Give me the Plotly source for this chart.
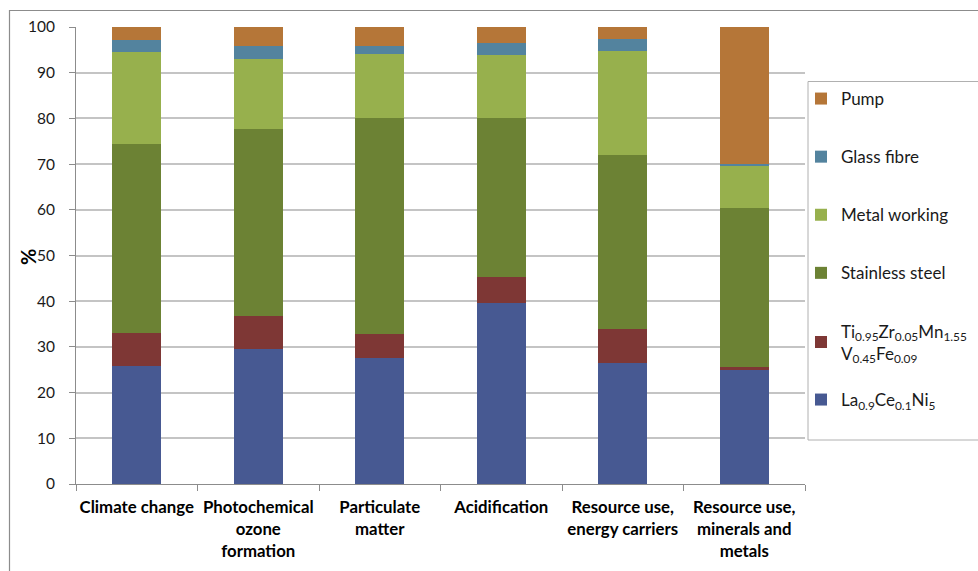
import plotly.graph_objects as go

# Impact categories (x axis)
categories = [
    "Climate change",
    "Photochemical<br>ozone<br>formation",
    "Particulate<br>matter",
    "Acidification",
    "Resource use,<br>energy carriers",
    "Resource use,<br>minerals and<br>metals",
]

# Contribution shares in % per component, bottom of stack first
la_ce_ni = [25.8, 29.6, 27.5, 39.7, 26.4, 25.1]
ti_zr_mn_v_fe = [7.2, 7.2, 5.4, 5.5, 7.5, 0.4]
stainless_steel = [41.3, 40.9, 47.1, 34.9, 38.1, 34.8]
metal_working = [20.3, 15.2, 14.1, 13.8, 22.7, 9.4]
glass_fibre = [2.5, 2.9, 1.8, 2.5, 2.6, 0.4]
pump = [2.9, 4.2, 4.1, 3.6, 2.7, 29.9]

series = [
    ("La<sub>0.9</sub>Ce<sub>0.1</sub>Ni<sub>5</sub>", la_ce_ni, "#475992"),
    ("Ti<sub>0.95</sub>Zr<sub>0.05</sub>Mn<sub>1.55</sub><br>V<sub>0.45</sub>Fe<sub>0.09</sub>",
     ti_zr_mn_v_fe, "#7e3735"),
    ("Stainless steel", stainless_steel, "#6c8234"),
    ("Metal working", metal_working, "#97b04d"),
    ("Glass fibre", glass_fibre, "#53839e"),
    ("Pump", pump, "#b57638"),
]

font_family = "Lato, 'Open Sans', sans-serif"

fig = go.Figure()
n = len(series)
for i, (name, vals, color) in enumerate(series):
    fig.add_trace(go.Bar(
        x=categories, y=vals, name=name,
        marker=dict(color=color, line=dict(width=0)),
        legendgroup=f"g{i}",
        legendrank=n - i,  # top of the stack listed first
        legend="legend2" if i == 0 else "legend",
    ))

W, H = 978, 571
ml, mr, mt, mb = 76, 173, 27, 87
pw, ph = W - ml - mr, H - mt - mb


def px_x(x):
    return (x - ml) / pw


def px_y(y):
    return (H - mb - y) / ph


legend_style = dict(
    xref="container", yref="container",
    xanchor="left", yanchor="top",
    traceorder="grouped",
    tracegroupgap=33,
    maxheight=560,
    font=dict(size=17, family=font_family, color="#1a1a1a"),
    bgcolor="rgba(0,0,0,0)",
    itemwidth=30,
)

fig.update_layout(
    width=W, height=H,
    margin=dict(l=ml, r=mr, t=mt, b=mb, pad=0, autoexpand=False),
    barmode="stack",
    bargap=0.6,
    paper_bgcolor="white",
    plot_bgcolor="white",
    font=dict(family=font_family, color="#1a1a1a", size=16),
    legend=dict(x=801 / W, y=1 - 81 / H, **legend_style),
    legend2=dict(x=801 / W, y=1 - 382 / H, **legend_style),
    xaxis=dict(
        showgrid=False,
        showline=True, linecolor="#8c8c8c", linewidth=1,
        ticks="outside", ticklen=6, tickcolor="#8c8c8c",
        tickson="boundaries",
        tickangle=0,
        automargin=False,
        ticklabelstandoff=8,
        tickfont=dict(size=16.8, family=font_family, color="#000000", weight="bold"),
    ),
    yaxis=dict(
        range=[0, 100],
        dtick=10,
        showgrid=True, gridcolor="#c4c4c4", gridwidth=1.5,
        showline=True, linecolor="#8c8c8c", linewidth=1,
        ticks="outside", ticklen=6, tickcolor="#8c8c8c",
        tickfont=dict(size=15.5, family=font_family, color="#1a1a1a"),
        ticklabelstandoff=11,
        automargin=False,
        zeroline=False,
    ),
    annotations=[
        dict(text="<b>%</b>", xref="paper", yref="paper",
             x=px_x(28), y=px_y(257), xanchor="center", yanchor="middle",
             textangle=-90, showarrow=False,
             font=dict(size=20, family=font_family, color="#000000")),
    ],
    shapes=[
        # outer chart frame
        dict(type="rect", xref="paper", yref="paper",
             x0=px_x(9.5), x1=px_x(W + 20), y0=px_y(H + 20), y1=px_y(10.5),
             line=dict(color="#8c8c8c", width=1.2), layer="below"),
        # legend frame
        dict(type="rect", xref="paper", yref="paper",
             x0=px_x(808), x1=px_x(W + 20), y0=px_y(440), y1=px_y(81.5),
             line=dict(color="#b0b0b0", width=1), layer="below"),
    ],
)

fig.write_html("out.html")
